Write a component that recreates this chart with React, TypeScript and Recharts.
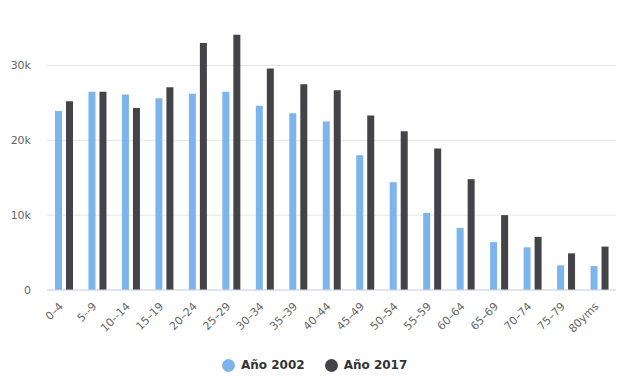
import { BarChart, Bar, XAxis, YAxis, CartesianGrid, Legend } from 'recharts';

const ageGroups = [
  '0–4', '5--9', '10--14', '15–19', '20–24', '25–29', '30–34', '35–39', '40–44',
  '45–49', '50–54', '55–59', '60–64', '65–69', '70–74', '75–79', '80yms',
];
const year2002 = [23900, 26500, 26100, 25600, 26200, 26500, 24600, 23600, 22500, 18000, 14400, 10300, 8300, 6400, 5700, 3300, 3200];
const year2017 = [25200, 26500, 24300, 27100, 33000, 34100, 29600, 27500, 26700, 23300, 21200, 18900, 14800, 10000, 7100, 4900, 5800];
const yTicks = [0, 10000, 20000, 30000];

const seriesNames = ['Año 2002', 'Año 2017'];
const colors = ['#7cb5ec', '#434348'];

const data = ageGroups.map((age, i) => ({ age, y2002: year2002[i], y2017: year2017[i] }));

const font = '"DejaVu Sans", sans-serif';

// etiquetas giradas -45 como en el original
function AgeTick({ x, y, payload }: any) {
  return (
    <g transform={`translate(${x},${y + 15})`}>
      <text textAnchor="end" transform="rotate(-45)" fill="#666666" fontSize={11} fontFamily={font}>
        {payload.value}
      </text>
    </g>
  );
}

function LegendBox() {
  return (
    <div style={{ height: 36, display: 'flex', justifyContent: 'flex-start', alignItems: 'flex-end', paddingLeft: 222, paddingBottom: 4, boxSizing: 'border-box', fontFamily: font }}>
      {seriesNames.map((name, i) => (
        <div key={name} style={{ display: 'flex', alignItems: 'center', marginRight: 20 }}>
          <span style={{ width: 13, height: 13, borderRadius: 7, background: colors[i], display: 'inline-block', marginRight: 6 }} />
          <span style={{ fontSize: 12, fontWeight: 'bold', color: '#333333' }}>{name}</span>
        </div>
      ))}
    </div>
  );
}

export default function App() {
  return (
    <div style={{ position: 'absolute', left: 0, top: 0, width: 627, height: 376, background: '#fff' }}>
      <BarChart width={627} height={376} data={data} margin={{ top: 28, right: 11, left: 0, bottom: 0 }} barGap={4} barSize={7}>
        <CartesianGrid vertical={false} stroke="#e6e6e6" horizontalValues={yTicks} />
        <XAxis
          dataKey="age"
          interval={0}
          height={50}
          tickLine={false}
          tickSize={0}
          axisLine={{ stroke: '#ccd6eb' }}
          tick={<AgeTick />}
        />
        <YAxis
          width={47}
          domain={[0, 35000]}
          ticks={yTicks}
          axisLine={false}
          tickLine={false}
          tickSize={0}
          tickMargin={16}
          tick={{ fill: '#666666', fontSize: 11, fontFamily: font }}
          tickFormatter={(v) => (v === 0 ? '0' : `${v / 1000}k`)}
        />
        <Legend verticalAlign="bottom" height={36} content={<LegendBox />} />
        <Bar dataKey="y2002" name={seriesNames[0]} fill={colors[0]} isAnimationActive={false} />
        <Bar dataKey="y2017" name={seriesNames[1]} fill={colors[1]} isAnimationActive={false} />
      </BarChart>
    </div>
  );
}
